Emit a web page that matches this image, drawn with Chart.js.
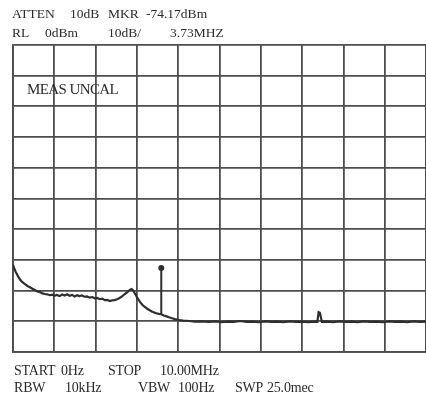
<!DOCTYPE html>
<html>
<head>
<meta charset="utf-8">
<script src="https://cdn.jsdelivr.net/npm/chart.js@4"></script>
<style>
  html, body { margin: 0; padding: 0; background: #fff; overflow: hidden; width: 426px; height: 401px; }
  #wrap { position: relative; width: 426px; height: 401px; overflow: hidden; }
  canvas { position: absolute; left: 0; top: 0; }
  .t { position: absolute; font-family: "Liberation Serif", "DejaVu Serif", serif; font-size: 13.5px; line-height: 13.5px; color: #2b2b2b; white-space: nowrap; }
  .bot { font-size: 14px; line-height: 14px; letter-spacing: -0.2px; }
  .big { font-size: 15px; line-height: 15px; letter-spacing: -0.6px; }
</style>
</head>
<body>
<div id="wrap">
  <canvas id="sa" width="430" height="401"></canvas>

  <div class="t" style="left:12px;top:7px">ATTEN</div>
  <div class="t" style="left:70px;top:7px">10dB</div>
  <div class="t" style="left:108px;top:7px">MKR</div>
  <div class="t" style="left:146px;top:7px">-74.17dBm</div>

  <div class="t" style="left:12px;top:26px">RL</div>
  <div class="t" style="left:45px;top:26px">0dBm</div>
  <div class="t" style="left:108px;top:26px">10dB/</div>
  <div class="t" style="left:170px;top:26px">3.73MHZ</div>

  <div class="t big" style="left:27px;top:82px">MEAS UNCAL</div>

  <div class="t bot" style="left:14px;top:364px">START</div>
  <div class="t bot" style="left:61px;top:364px">0Hz</div>
  <div class="t bot" style="left:108px;top:364px">STOP</div>
  <div class="t bot" style="left:160px;top:364px">10.00MHz</div>

  <div class="t bot" style="left:14px;top:381px">RBW</div>
  <div class="t bot" style="left:65px;top:381px">10kHz</div>
  <div class="t bot" style="left:138px;top:381px">VBW</div>
  <div class="t bot" style="left:178px;top:381px">100Hz</div>
  <div class="t bot" style="left:235px;top:381px">SWP</div>
  <div class="t bot" style="left:267px;top:381px">25.0mec</div>
</div>

<script>
// sweep trace (MHz / dBm)
const freqMHz = [
  0.00, 0.03, 0.07, 0.12, 0.17, 0.22, 0.29, 0.35, 0.41, 0.47,
  0.53, 0.59, 0.65, 0.71, 0.77, 0.83, 0.89, 0.95, 1.00, 1.06,
  1.13, 1.19, 1.25, 1.31, 1.37, 1.43, 1.49, 1.55, 1.61, 1.67,
  1.73, 1.79, 1.86, 1.92, 1.98, 2.04, 2.10, 2.16, 2.22, 2.28,
  2.34, 2.40, 2.46, 2.52, 2.58, 2.64, 2.70, 2.76, 2.80, 2.84,
  2.87, 2.90, 2.94, 2.98, 3.01, 3.07, 3.13, 3.19, 3.25, 3.30,
  3.36, 3.42, 3.47, 3.53, 3.59, 3.65, 3.72, 3.78, 3.85, 3.92,
  4.02, 4.12, 4.27, 4.40, 4.55, 4.75, 4.90, 5.05, 5.20, 5.35,
  5.50, 5.65, 5.80, 5.95, 6.10, 6.25, 6.40, 6.55, 6.70, 6.85,
  7.00, 7.15, 7.30, 7.37, 7.40, 7.43, 7.48, 7.60, 7.75, 7.90,
  8.05, 8.20, 8.35, 8.50, 8.65, 8.80, 8.95, 9.10, 9.25, 9.40,
  9.55, 9.70, 9.85, 10.00
];
const levelDbm = [
  -71.5, -72.8, -74.0, -75.3, -76.4, -77.2, -77.9, -78.5, -78.9, -79.4,
  -79.8, -80.3, -80.5, -80.9, -81.1, -81.2, -81.5, -81.3, -81.7, -81.4,
  -81.8, -81.3, -81.6, -81.2, -81.7, -81.4, -81.9, -81.5, -81.8, -81.6,
  -82.0, -81.9, -82.3, -82.1, -82.5, -82.4, -82.8, -82.6, -83.1, -83.0,
  -83.4, -83.2, -83.1, -82.8, -82.4, -81.9, -81.2, -80.6, -80.1, -79.7,
  -79.5, -79.8, -80.7, -81.6, -82.4, -83.6, -84.6, -85.3, -85.9, -86.3,
  -86.8, -87.1, -87.4, -87.6, -87.7, -88.1, -88.4, -88.7, -89.0, -89.3,
  -89.6, -89.8, -89.9, -90.1, -90.0, -90.2, -90.0, -90.3, -90.1, -90.2,
  -89.9, -90.2, -90.1, -90.3, -90.0, -90.2, -90.1, -90.3, -90.0, -90.2,
  -90.1, -90.3, -90.1, -90.2, -87.0, -87.2, -90.2, -90.1, -90.3, -90.0,
  -90.2, -90.1, -90.3, -90.0, -90.2, -90.1, -90.3, -90.0, -90.2, -90.1,
  -90.3, -90.0, -90.2, -90.1
];

// marker line (base on trace, tip with dot)
const markerFreq = [3.59, 3.59];
const markerLevel = [-87.7, -72.6];

const yTicks = [0, -10, -20, -30, -40, -50, -60, -70, -80, -90, -100];

const ink = '#2e2e2e';
const gridInk = '#4d4d4d';

new Chart(document.getElementById('sa'), {
  type: 'line',
  data: {
    datasets: [
      {
        data: freqMHz.map((f, i) => ({ x: f, y: levelDbm[i] })),
        borderColor: ink, borderWidth: 2.2, pointRadius: 0, tension: 0
      },
      {
        data: markerFreq.map((f, i) => ({ x: f, y: markerLevel[i] })),
        borderColor: ink, borderWidth: 2,
        pointRadius: [0, 3], pointBackgroundColor: ink, pointBorderWidth: 0
      }
    ]
  },
  options: {
    responsive: false, animation: false, devicePixelRatio: 1,
    layout: { padding: { left: 13, top: 45, right: 2, bottom: 49 } },
    plugins: { legend: { display: false }, tooltip: { enabled: false } },
    scales: {
      x: {
        type: 'linear', min: 0, max: 10,
        ticks: { display: false, stepSize: 1 },
        grid: { color: gridInk, lineWidth: 1.8, drawTicks: false },
        border: { color: gridInk, width: 1.8 }
      },
      y: {
        min: -100, max: 0,
        afterBuildTicks: axis => { axis.ticks = yTicks.map(v => ({ value: v })); },
        ticks: { display: false },
        grid: { color: gridInk, lineWidth: 1.8, drawTicks: false },
        border: { color: gridInk, width: 1.8 }
      }
    }
  }
});
</script>
</body>
</html>
